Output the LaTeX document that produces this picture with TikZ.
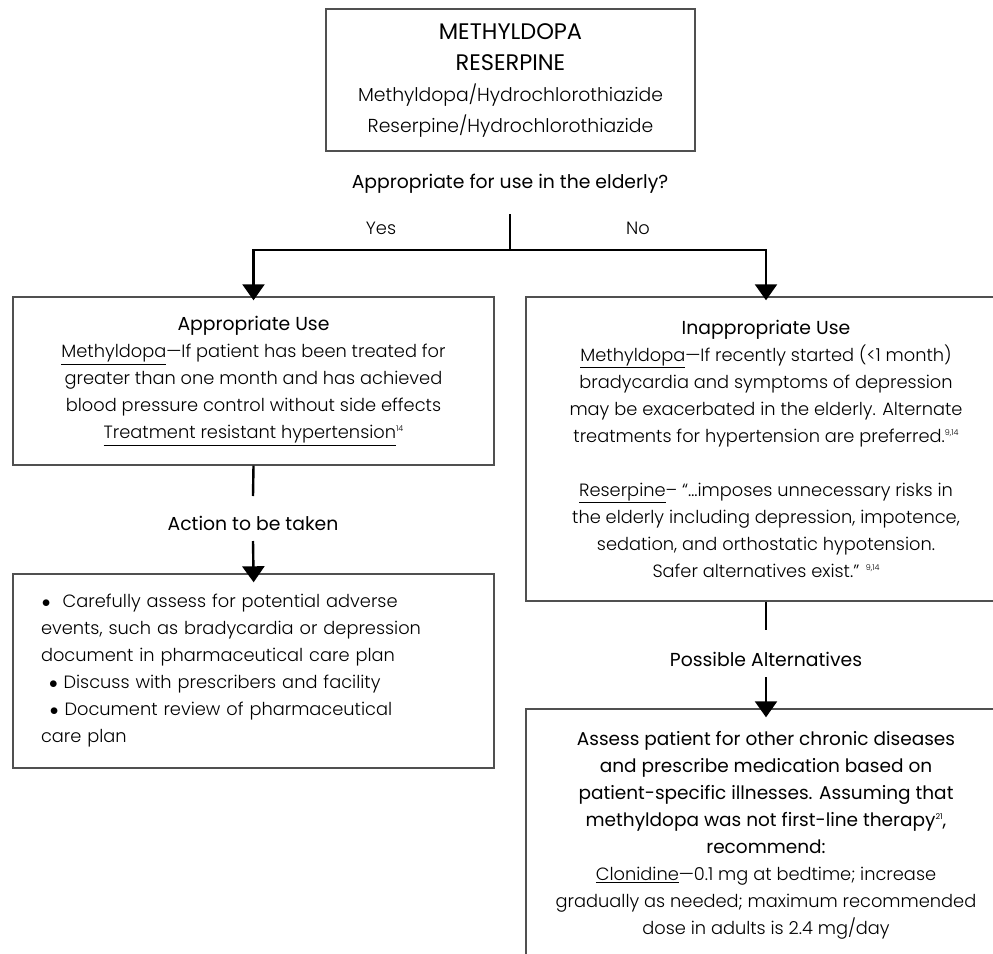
\documentclass[tikz,border=0pt]{standalone}
\usepackage{fontspec}
\usetikzlibrary{arrows.meta}
\newfontfamily\bodyfont{Poppins Light}
\newfontfamily\headfont{Poppins}
\definecolor{boxgray}{HTML}{505050}
\newcommand{\refsup}[1]{{\fontsize{8}{8}\selectfont\raisebox{7pt}{#1}}}
\newcommand{\ul}[1]{\underline{#1}}
\newcommand{\dotmark}{$\bullet$}
\newcommand{\capsline}[1]{{\headfont\fontsize{22.5}{31}\selectfont #1}}

\begin{document}
\begin{tikzpicture}[x=1pt,y=-1pt,
  box/.style={draw=boxgray, line width=1.4pt, inner sep=0pt, align=center},
  conn/.style={line width=2.4pt, draw=black},
  tip/.style={conn, -{Triangle[width=22pt,length=16pt]}},
  body/.style={font=\bodyfont\fontsize{17.8}{27}\selectfont},
  head/.style={font=\headfont\fontsize{18.8}{27}\selectfont},
  label/.style={inner sep=0pt, align=center},
]
\useasboundingbox (0,0) rectangle (993,953);
\clip (0,0) rectangle (993,953);

% drug box
\node[box, minimum width=369pt, minimum height=142pt,
      font=\bodyfont\fontsize{18.8}{31}\selectfont] (drugs) at (510.5,80)
  {\capsline{METHYLDOPA}\\
   \capsline{RESERPINE}\\
   Methyldopa/Hydrochlorothiazide\\
   Reserpine/Hydrochlorothiazide};

% question and the split
\node[label, head] (question) at (510,184) {Appropriate for use in the elderly?};
\node[label, body] (yes) at (381,228) {Yes};
\node[label, body] (no) at (638,228) {No};
\coordinate (stem) at (510,214);
\coordinate (split) at (510,250);

% appropriate use
\node[box, body, minimum width=481pt, minimum height=168pt] (appr) at (253.5,381)
  {{\headfont\fontsize{18.8}{27}\selectfont Appropriate Use}\\
   \ul{Methyldopa}—If patient has been treated for\\
   greater than one month and has achieved\\
   blood pressure control without side effects\\
   \ul{Treatment resistant hypertension}\refsup{14}};

% inappropriate use
\node[box, body, minimum width=480pt, minimum height=304pt] (inappr) at (766,449)
  {{\headfont\fontsize{18.8}{27}\selectfont Inappropriate Use}\\
   \ul{Methyldopa}—If recently started (<1 month)\\
   bradycardia and symptoms of depression\\
   may be exacerbated in the elderly. Alternate\\
   treatments for hypertension are preferred.\refsup{9,14}\\[27pt]
   \ul{Reserpine}– “…imposes unnecessary risks in\\
   the elderly including depression, impotence,\\
   sedation, and orthostatic hypotension.\\
   Safer alternatives exist.” \refsup{9,14}};

% action branch
\node[label, head] (action) at (253,523) {Action to be taken};
\coordinate (act-in) at (253,496);
\coordinate (act-out) at (253,541);
\node[box, body, minimum width=481pt, minimum height=194pt,
      text width=425pt, align=left] (actbox) at (253.5,671)
  {\hspace*{1pt}\dotmark\hspace{12pt}Carefully assess for potential adverse\\
   events, such as bradycardia or depression\\
   document in pharmaceutical care plan\\
   \hspace*{8pt}\dotmark\ Discuss with prescribers and facility\\
   \hspace*{9pt}\dotmark\ Document review of pharmaceutical\\
   care plan};

% alternatives branch
\node[label, head] (possible) at (766,659) {Possible Alternatives};
\coordinate (alt-in) at (766,630);
\coordinate (alt-out) at (766,677);
\node[box, body, minimum width=480pt, minimum height=252pt] (alt) at (766,835)
  {{\headfont\fontsize{18.5}{27}\selectfont Assess patient for other chronic diseases}\\
   {\headfont\fontsize{18.5}{27}\selectfont and prescribe medication based on}\\
   {\headfont\fontsize{18.5}{27}\selectfont patient-specific illnesses. Assuming that}\\
   {\headfont\fontsize{18.5}{27}\selectfont methyldopa was not first-line therapy\refsup{21},}\\
   {\headfont\fontsize{18.5}{27}\selectfont recommend:}\\
   \ul{Clonidine}—0.1 mg at bedtime; increase\\
   gradually as needed; maximum recommended\\
   dose in adults is 2.4 mg/day};

% connectors
\draw[conn] (stem) -- (split);
\draw[tip, shorten >=-4pt] (split) -| (appr.north);
\draw[tip, shorten >=-4pt] (split) -| (inappr.north);
\draw[conn] (appr.south) -- (act-in);
\draw[tip, shorten >=-9pt] (act-out) -- (actbox.north);
\draw[conn] (inappr.south) -- (alt-in);
\draw[tip, shorten >=-9pt] (alt-out) -- (alt.north);
\end{tikzpicture}
\end{document}
